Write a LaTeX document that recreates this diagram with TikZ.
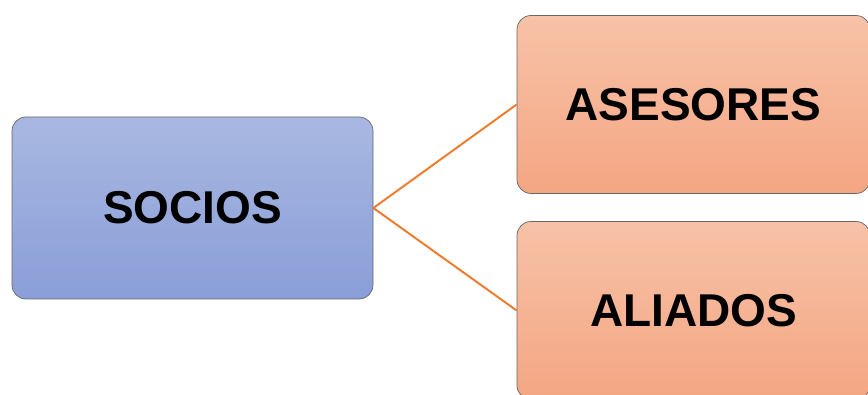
\documentclass[tikz,border=0pt]{standalone}
\usepackage{fontspec}
\setmainfont{Liberation Sans}
\definecolor{sociotop}{HTML}{A9B8E1}
\definecolor{sociobot}{HTML}{8A9ED8}
\definecolor{ramatop}{HTML}{F7C2A8}
\definecolor{ramabot}{HTML}{F4A682}
\definecolor{enlace}{HTML}{ED7D31}
\tikzset{
  caja/.style={draw=black!60,line width=0.7pt,rounded corners=14pt,inner sep=0pt,
    font=\bfseries\fontsize{46}{50}\selectfont},
  socio/.style={caja,top color=sociotop,bottom color=sociobot,minimum width=361pt,minimum height=182pt},
  rama/.style={caja,top color=ramatop,bottom color=ramabot,minimum width=353pt,minimum height=178pt},
}
\begin{document}
\begin{tikzpicture}[x=1pt,y=-1pt]
\useasboundingbox (0,0) rectangle (868,395);

% nodes
\node (s) [socio] at (192.5,208) {SOCIOS};
\node (a) [rama] at (693.5,104.5) {ASESORES};
\node (l) [rama] at (693.5,310.5) {ALIADOS};

% lines
\draw[enlace,line width=2pt] (s.east) -- (a.west);
\draw[enlace,line width=2pt] (s.east) -- (l.west);
\end{tikzpicture}
\end{document}
